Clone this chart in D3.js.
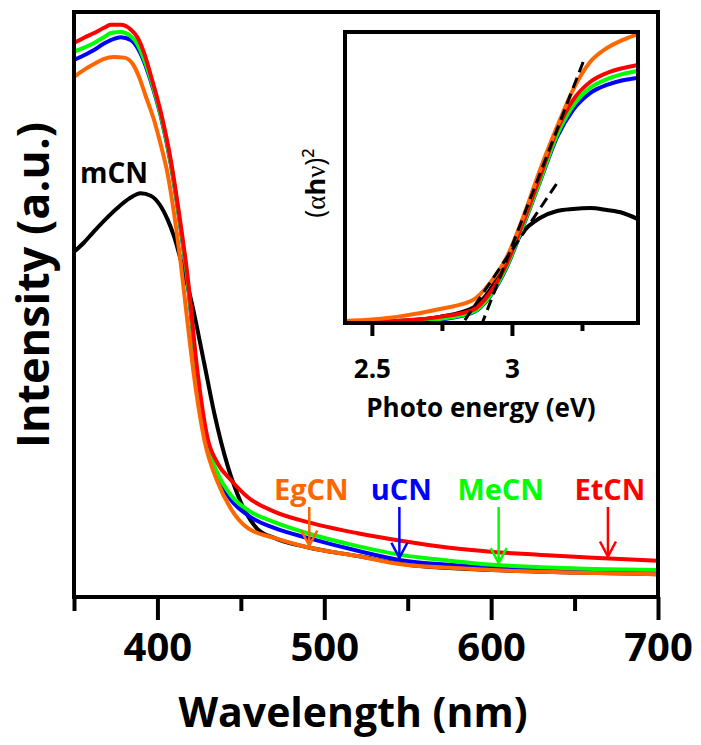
<!DOCTYPE html>
<html>
<head>
<meta charset="utf-8">
<script src="https://cdn.jsdelivr.net/npm/d3@7"></script>
<style>
  body { margin: 0; background: #fff; }
  text { font-family: "Open Sans", sans-serif; font-weight: 700; }
</style>
</head>
<body>
<div id="chart"></div>
<script>
// ---- data ----
// main panel: [wavelength nm, intensity a.u.]
var mCN = [[350,59.0],[356,60.6],[362,62.5],[369,64.6],[376,66.5],[383,68.1],[390,69.0],[396,68.6],[402,66.8],[406,64.6],[410,61.6],[415,56.5],[420,51.0],[428,40.0],[434,31.5],[442,22.5],[450,16.2],[460,11.6],[470,10.1],[490,8.5],[520,7.0],[550,5.5],[600,4.6],[650,4.2],[700,3.9]];
var uCN = [[350,91.8],[356,92.6],[362,93.5],[368,94.6],[372,95.2],[378,95.7],[384,95.2],[388,93.9],[392,91.5],[396,88.2],[402,82.2],[408,74.0],[413,64.8],[418,54.0],[424,37.3],[430,25.6],[436,20.6],[444,16.6],[454,14.0],[470,11.8],[490,10.1],[520,7.9],[546,6.3],[575,5.5],[601,5.0],[630,4.6],[661,4.4],[700,4.3]];
var MeCN = [[350,93.2],[356,93.9],[362,94.7],[368,95.7],[372,96.4],[378,96.6],[384,95.9],[388,94.5],[392,91.9],[396,88.5],[402,82.4],[408,74.2],[413,65.0],[418,54.3],[424,37.6],[430,26.0],[436,21.2],[444,17.4],[454,14.9],[470,12.8],[490,10.9],[520,8.7],[546,7.2],[575,6.2],[601,5.5],[630,5.1],[661,4.8],[700,4.6]];
var EtCN = [[350,94.7],[356,95.6],[362,96.4],[368,97.3],[372,97.8],[378,97.8],[384,97.0],[388,95.7],[392,93.0],[396,89.2],[402,82.9],[408,74.7],[413,65.5],[418,55.0],[424,38.5],[430,27.2],[436,22.9],[444,20.0],[454,17.1],[470,14.6],[490,12.8],[520,10.9],[546,9.6],[575,8.4],[601,7.7],[630,7.2],[661,6.7],[700,6.2]];
var EgCN = [[350,88.9],[356,90.1],[362,91.1],[368,92.0],[374,92.3],[380,92.2],[385,91.2],[389,88.9],[393,85.6],[398,81.5],[402,77.3],[406,72.5],[410,65.5],[414,57.0],[418,47.0],[422,37.6],[428,27.0],[436,19.7],[444,15.1],[454,11.8],[470,10.1],[490,8.5],[520,7.0],[546,5.6],[575,5.0],[601,4.6],[630,4.3],[661,4.1],[700,3.9]];

// inset: photon energy (eV) grid and (ahv)^2 values
var energy = [2.404,2.589,2.743,2.861,2.921,2.982,3.039,3.1,3.161,3.218,3.279,3.339,3.396,3.45];
var tauc_mCN = [0,0.7,2.1,5.2,11.3,22.3,31.3,36.1,38.5,39.2,39.5,38.8,37.8,35.7];
var tauc_uCN = [0,0.2,1.2,3.6,9.0,19.3,33.0,48.5,63.9,73.2,79.0,81.8,83.4,84.2];
var tauc_MeCN = [0,0.3,1.4,3.8,9.3,19.6,33.3,48.8,64.6,74.6,80.8,83.8,85.6,86.6];
var tauc_EtCN = [0,0.7,2.1,4.5,10.3,20.6,34.4,50.2,66.3,76.6,82.8,85.9,87.6,88.7];
var tauc_EgCN = [0.7,2.1,4.8,7.9,13.7,22.7,36.1,52.6,67.4,80.1,89.7,94.5,97.3,99.3];
// tangent (dashed) lines [[E0, v0], [E1, v1]]
var fit_steep = [[2.89,-1],[3.261,91.4]];
var fit_mCN = [[2.832,1.0],[3.164,48.5]];

var names = ["mCN","uCN","MeCN","EtCN","EgCN"];
var colors = { mCN: "#000000", uCN: "#0000ff", MeCN: "#00ff00", EtCN: "#ff0000", EgCN: "#ff6600" };
var mainSeries = { mCN: mCN, uCN: uCN, MeCN: MeCN, EtCN: EtCN, EgCN: EgCN };
var insetSeries = { mCN: tauc_mCN, uCN: tauc_uCN, MeCN: tauc_MeCN, EtCN: tauc_EtCN, EgCN: tauc_EgCN };

var xTicks = [350,400,450,500,550,600,650,700];
var insetTicks = [2.5,2.75,3,3.25];
// arrow labels: name, wavelength where the arrow points
var arrowNames = ["EgCN","uCN","MeCN","EtCN"];
var arrowAt = [491,545,604.5,670];

// ---- layout ----
var W = 701, H = 745;
var svg = d3.select("#chart").append("svg")
    .attr("width", W).attr("height", H);

var x = d3.scaleLinear().domain([350, 700]).range([74, 658]);
var y = d3.scaleLinear().domain([0, 100]).range([597, 12]);

// curves
var line = d3.line()
    .x(function (d) { return x(d[0]); })
    .y(function (d) { return y(d[1]); })
    .curve(d3.curveMonotoneX);

svg.selectAll(".curve")
    .data(names)
    .enter()
    .append("path")
    .attr("fill", "none")
    .attr("stroke", function (d) { return colors[d]; })
    .attr("stroke-width", 4)
    .attr("stroke-linejoin", "round")
    .attr("d", function (d) { return line(mainSeries[d]); });

// frame
svg.append("rect")
    .attr("x", 74).attr("y", 12)
    .attr("width", 584).attr("height", 585)
    .attr("fill", "none").attr("stroke", "#000").attr("stroke-width", 4);

// x axis
var xAxis = svg.append("g")
    .attr("transform", "translate(0,597)")
    .call(d3.axisBottom(x).tickValues(xTicks)
        .tickFormat(function (d) { return d % 100 === 0 ? d : ""; }));
xAxis.select(".domain").remove();
xAxis.selectAll(".tick line")
    .attr("stroke", "#000").attr("stroke-width", 4)
    .attr("y2", function (d) { return d % 100 === 0 ? 23 : 14; });
xAxis.selectAll(".tick text")
    .attr("y", 64).attr("dy", null)
    .style("font-family", "Open Sans").style("font-weight", 700)
    .style("font-size", "40px").attr("fill", "#000");

svg.append("text")
    .attr("x", 353).attr("y", 727)
    .attr("text-anchor", "middle")
    .style("font-size", "41px")
    .text("Wavelength (nm)");

svg.append("text")
    .attr("transform", "translate(49,285) rotate(-90)")
    .attr("text-anchor", "middle")
    .style("font-size", "45px")
    .text("Intensity (a.u.)");

// labels
svg.append("text")
    .attr("x", 80).attr("y", 183)
    .style("font-size", "28px")
    .text("mCN");

function valueAt(series, wl) {
    for (var i = 1; i < series.length; i++) {
        if (series[i][0] >= wl) {
            var a = series[i - 1], b = series[i];
            return a[1] + (b[1] - a[1]) * (wl - a[0]) / (b[0] - a[0]);
        }
    }
    return series[series.length - 1][1];
}

arrowNames.forEach(function (n, i) {
    var ax = x(arrowAt[i]);
    var tip = y(valueAt(mainSeries[n], arrowAt[i])) - 2;
    svg.append("text")
        .attr("x", ax + 2).attr("y", 500)
        .attr("text-anchor", "middle")
        .attr("fill", colors[n])
        .style("font-size", "29px")
        .text(n);
    svg.append("line")
        .attr("x1", ax).attr("x2", ax)
        .attr("y1", 507).attr("y2", tip)
        .attr("stroke", colors[n]).attr("stroke-width", 2.5);
    svg.append("path")
        .attr("d", "M" + (ax - 8) + "," + (tip - 15) + "L" + ax + "," + tip + "L" + (ax + 8) + "," + (tip - 15))
        .attr("fill", "none")
        .attr("stroke", colors[n]).attr("stroke-width", 2.5);
});

// ---- inset ----
var ix = d3.scaleLinear().domain([2.404, 3.45]).range([345, 638]);
var iy = d3.scaleLinear().domain([0, 100]).range([323, 32]);

svg.append("rect")
    .attr("x", 345).attr("y", 32)
    .attr("width", 293).attr("height", 291)
    .attr("fill", "#fff");

svg.append("clipPath").attr("id", "insetClip")
    .append("rect")
    .attr("x", 345).attr("y", 32)
    .attr("width", 293).attr("height", 291);

var inset = svg.append("g").attr("clip-path", "url(#insetClip)");

var iline = d3.line()
    .x(function (d, i) { return ix(energy[i]); })
    .y(function (d) { return iy(d); })
    .curve(d3.curveMonotoneX);

inset.selectAll(".tauc")
    .data(names)
    .enter()
    .append("path")
    .attr("fill", "none")
    .attr("stroke", function (d) { return colors[d]; })
    .attr("stroke-width", 4)
    .attr("d", function (d) { return iline(insetSeries[d]); });

var fitLine = d3.line()
    .x(function (d) { return ix(d[0]); })
    .y(function (d) { return iy(d[1]); });

inset.selectAll(".fit")
    .data([fit_steep, fit_mCN])
    .enter()
    .append("path")
    .attr("fill", "none")
    .attr("stroke", "#000")
    .attr("stroke-width", 3)
    .attr("stroke-dasharray", "11,6")
    .attr("d", function (d) { return fitLine(d); });

svg.append("rect")
    .attr("x", 345).attr("y", 32)
    .attr("width", 293).attr("height", 291)
    .attr("fill", "none").attr("stroke", "#000").attr("stroke-width", 4);

var iAxis = svg.append("g")
    .attr("transform", "translate(0,323)")
    .call(d3.axisBottom(ix).tickValues(insetTicks)
        .tickFormat(function (d) { return d === 2.5 || d === 3 ? d : ""; }));
iAxis.select(".domain").remove();
iAxis.selectAll(".tick line")
    .attr("stroke", "#000").attr("stroke-width", 4)
    .attr("y2", function (d) { return d === 2.5 || d === 3 ? 13 : 8; });
iAxis.selectAll(".tick text")
    .attr("y", 55).attr("dy", null)
    .style("font-family", "Open Sans").style("font-weight", 700)
    .style("font-size", "26px").attr("fill", "#000");

svg.append("text")
    .attr("x", 481).attr("y", 417)
    .attr("text-anchor", "middle")
    .style("font-size", "26px")
    .text("Photo energy (eV)");

var ylab = svg.append("text")
    .attr("transform", "translate(325,183) rotate(-90)")
    .attr("text-anchor", "middle")
    .style("font-size", "27px");
ylab.append("tspan").style("font-weight", 400).text("(");
ylab.append("tspan").style("font-family", "Liberation Serif").style("font-weight", 400).text("α");
ylab.append("tspan").text("h");
ylab.append("tspan").style("font-family", "Liberation Serif").style("font-weight", 400).text("ν");
ylab.append("tspan").style("font-weight", 400).text(")²");
</script>
</body>
</html>
